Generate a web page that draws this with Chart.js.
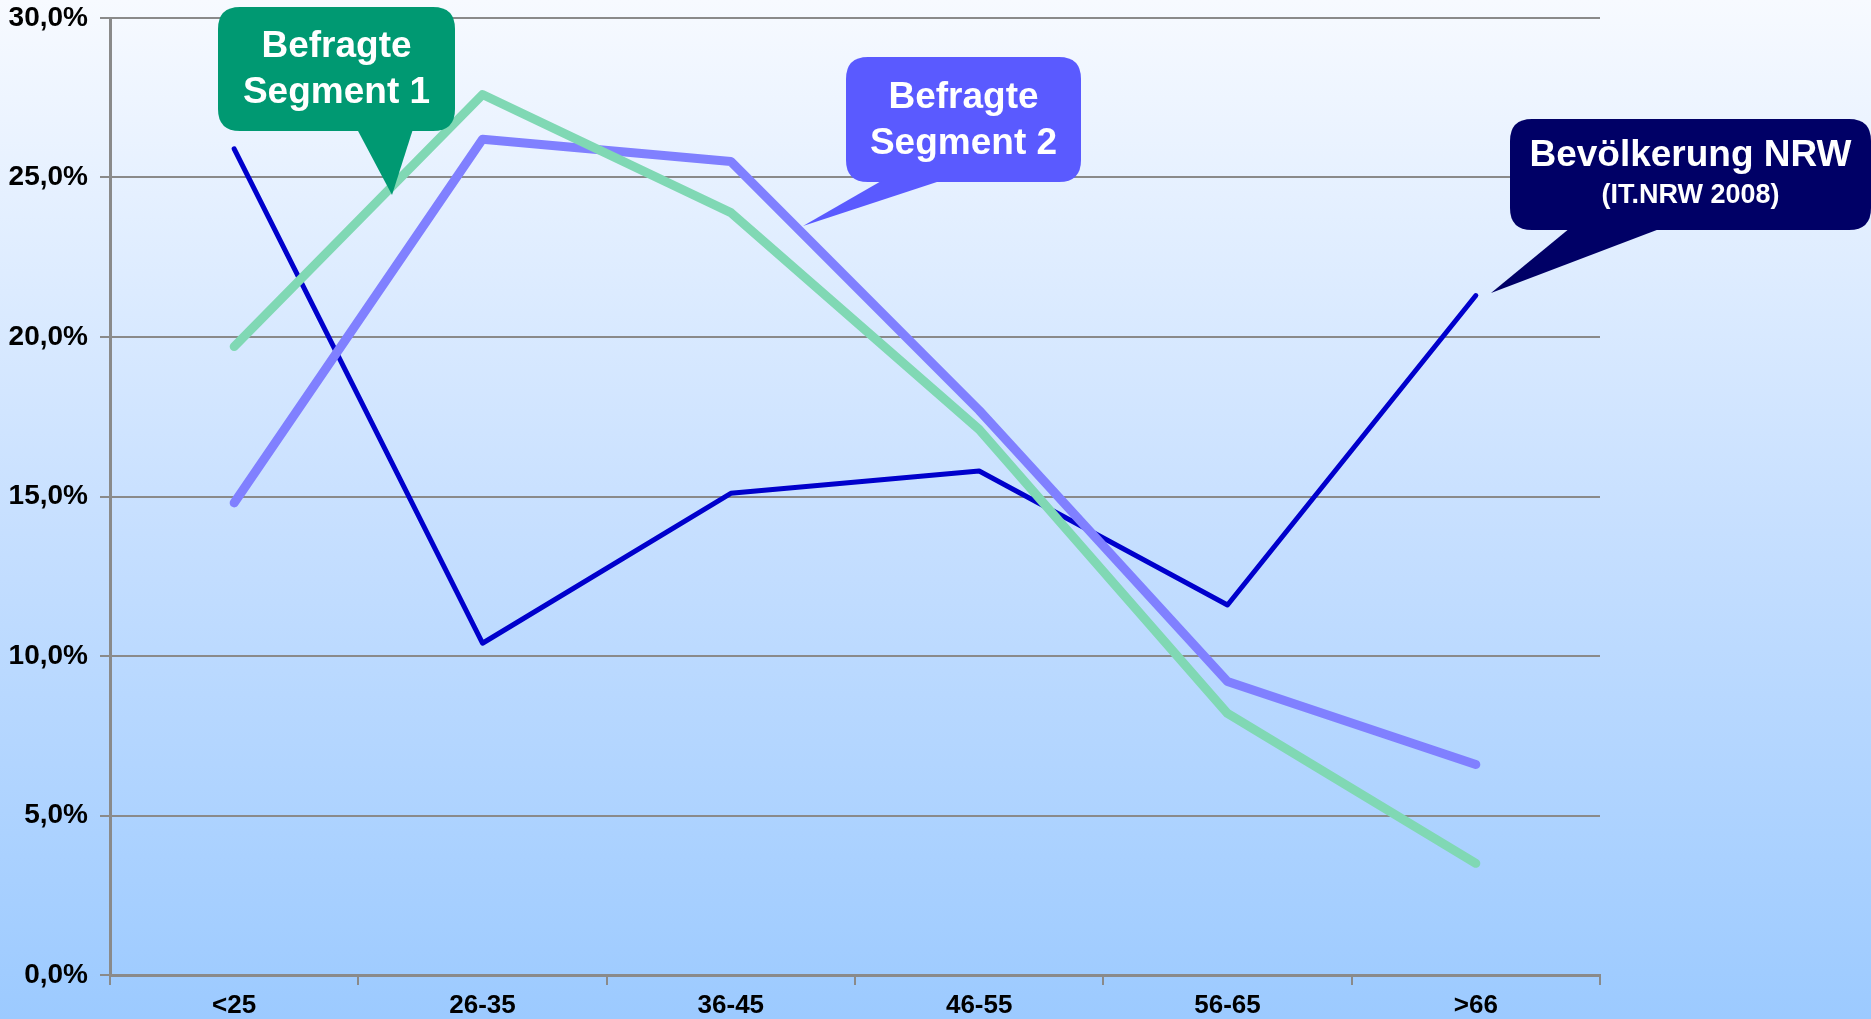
<!DOCTYPE html>
<html>
<head>
<meta charset="utf-8">
<script src="https://cdn.jsdelivr.net/npm/chart.js@4"></script>
<style>
  html, body { margin: 0; padding: 0; }
  body {
    width: 1871px;
    height: 1019px;
    overflow: hidden;
    background: linear-gradient(to bottom, #f7faff 0%, #c8e0ff 50%, #9ccaff 100%);
  }
  #wrap { width: 1871px; height: 1019px; position: relative; }
</style>
</head>
<body>
<div id="wrap"><canvas id="myChart"></canvas></div>
<script>
// Altersgruppen
const categories = ["<25", "26-35", "36-45", "46-55", "56-65", ">66"];

// Anteile in Prozent
const nrwValues = [25.9, 10.4, 15.1, 15.8, 11.6, 21.3];
const segment1Values = [19.7, 27.6, 23.9, 17.1, 8.2, 3.5];
const segment2Values = [14.8, 26.2, 25.5, 17.7, 9.2, 6.6];

const yTicks = [0, 5, 10, 15, 20, 25, 30];

// Sprechblasen
const callouts = [
  {
    lines: ["Befragte", "Segment 1"],
    sizes: [37, 37],
    color: "#009972",
    box: [218, 7, 455, 131],
    base: [357, 413],
    tip: [392, 195],
  },
  {
    lines: ["Befragte", "Segment 2"],
    sizes: [37, 37],
    color: "#5a5aff",
    box: [846, 57, 1081, 182],
    base: [883, 943],
    tip: [803, 226],
  },
  {
    lines: ["Bevölkerung NRW", "(IT.NRW 2008)"],
    sizes: [37, 27],
    color: "#000066",
    box: [1510, 119, 1871, 230],
    base: [1570, 1662],
    tip: [1491, 293],
  },
];

function roundRect(c, x1, y1, x2, y2, r) {
  c.beginPath();
  c.moveTo(x1 + r, y1);
  c.lineTo(x2 - r, y1);
  c.quadraticCurveTo(x2, y1, x2, y1 + r);
  c.lineTo(x2, y2 - r);
  c.quadraticCurveTo(x2, y2, x2 - r, y2);
  c.lineTo(x1 + r, y2);
  c.quadraticCurveTo(x1, y2, x1, y2 - r);
  c.lineTo(x1, y1 + r);
  c.quadraticCurveTo(x1, y1, x1 + r, y1);
  c.closePath();
}

const calloutPlugin = {
  id: "callouts",
  afterDraw(chart) {
    const c = chart.ctx;
    c.save();
    callouts.forEach((co) => {
      const [x1, y1, x2, y2] = co.box;
      c.fillStyle = co.color;
      roundRect(c, x1, y1, x2, y2, 22);
      c.fill();
      c.beginPath();
      c.moveTo(co.base[0], y2 - 2);
      c.lineTo(co.tip[0], co.tip[1]);
      c.lineTo(co.base[1], y2 - 2);
      c.closePath();
      c.fill();
      c.fillStyle = "#ffffff";
      c.textAlign = "center";
      c.textBaseline = "middle";
      const cx = (x1 + x2) / 2;
      const cy = (y1 + y2) / 2;
      const gap = co.sizes[0] * 0.62 + co.sizes[1] * 0.62;
      c.font = "bold " + co.sizes[0] + "px 'Liberation Sans', Arial, sans-serif";
      c.fillText(co.lines[0], cx, cy - gap / 2 + 1);
      c.font = "bold " + co.sizes[1] + "px 'Liberation Sans', Arial, sans-serif";
      c.fillText(co.lines[1], cx, cy + gap / 2 + 1);
    });
    c.restore();
  },
};

const ctx = document.getElementById("myChart").getContext("2d");

const myChart = new Chart(ctx, {
  type: "line",
  data: {
    labels: categories,
    datasets: [
      {
        label: "Befragte Segment 1",
        data: segment1Values,
        borderColor: "#80d8b4",
        borderWidth: 9,
        pointRadius: 0,
        tension: 0,
        borderCapStyle: "round",
        borderJoinStyle: "round",
      },
      {
        label: "Befragte Segment 2",
        data: segment2Values,
        borderColor: "#8080ff",
        borderWidth: 9,
        pointRadius: 0,
        tension: 0,
        borderCapStyle: "round",
        borderJoinStyle: "round",
      },
      {
        label: "Bevölkerung NRW",
        data: nrwValues,
        borderColor: "#0000cc",
        borderWidth: 5,
        pointRadius: 0,
        tension: 0,
        borderCapStyle: "round",
        borderJoinStyle: "round",
      },
    ],
  },
  options: {
    responsive: true,
    maintainAspectRatio: false,
    animation: false,
    layout: {
      padding: { left: 0, right: 271, top: 18, bottom: 0 },
    },
    scales: {
      x: {
        offset: true,
        afterFit: (scale) => {
          scale.height = 44;
        },
        border: { display: true, color: "#8a8a8a", width: 3 },
        grid: {
          offset: true,
          drawOnChartArea: false,
          drawTicks: true,
          tickLength: 10,
          color: "#8a8a8a",
          lineWidth: 2,
        },
        ticks: {
          color: "#000000",
          padding: 5,
          maxRotation: 0,
          font: { family: "'Liberation Sans', Arial, sans-serif", size: 26, weight: "bold" },
        },
      },
      y: {
        min: 0,
        max: 30,
        afterFit: (scale) => {
          scale.width = 110;
          scale.paddingTop = 0;
          scale.paddingBottom = 0;
        },
        afterBuildTicks: (scale) => {
          scale.ticks = yTicks.map((v) => ({ value: v }));
        },
        border: { display: true, color: "#8a8a8a", width: 3 },
        grid: {
          color: "#8a8a8a",
          lineWidth: 2,
          tickLength: 10,
        },
        ticks: {
          color: "#000000",
          padding: 12,
          font: { family: "'Liberation Sans', Arial, sans-serif", size: 28, weight: "bold" },
          callback: (value) => value.toFixed(1).replace(".", ",") + "%",
        },
      },
    },
    plugins: {
      legend: { display: false },
      tooltip: { enabled: false },
    },
  },
  plugins: [calloutPlugin],
});
</script>
</body>
</html>
